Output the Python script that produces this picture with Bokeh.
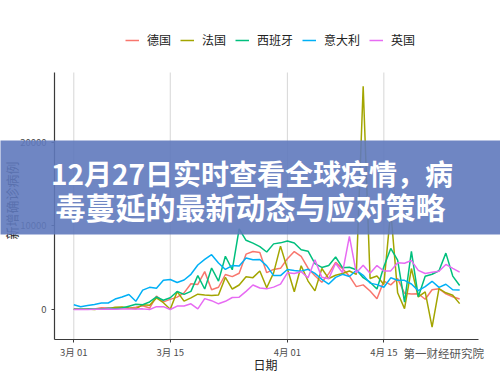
import math
import pandas as pd
from bokeh.plotting import figure
from bokeh.models import (Range1d, FixedTicker, Legend, LegendItem, BoxAnnotation,
                          Label, ColumnDataSource)
from bokeh.embed import file_html
from bokeh.resources import INLINE

# ---------------- data ----------------
dates = pd.date_range("2020-03-01", "2020-04-26", freq="D")

germany = [51, 29, 37, 66, 220, 188, 129, 241, 136, 281, 451, 170, 1597, 910,
           1210, 1477, 1985, 3070, 2993, 4528, 2365, 2660, 4183, 3930, 4337, 6615, 6933, 6824, 4400, 4790, 4923,
           6064, 6922, 6365, 4933, 4031, 3251, 4289, 5633, 4885, 3990, 2737, 2946, 2218, 1287, 3394, 2945,
           3699, 1945, 1842, 1881, 1226, 2357, 2481, 1870, 1514, 1257]
france = [43, 30, 61, 13, 84, 92, 276, 301, 177, 83, 575, 497, 1383, 808,
          33, 2137, 1002, 1391, 1828, 1741, 1670, 1736, 3838, 2448, 2929, 3922, 3809, 4611, 2599, 4376, 7578,
          4861, 2116, 5233, 3400, 2225, 4900, 3700, 4100, 4300, 4600, 4200, 26700, 3700, 4000, 3000, 11800,
          2000, 100, 4900, 1500, 2100, -2100, 2500, 2000, 1700, 700]
spain = [39, 36, 45, 57, 37, 141, 100, 173, 400, 622, 582, 900, 1500, 1100,
         1407, 2144, 1806, 2162, 4053, 2447, 4964, 3394, 6368, 4749, 9630, 8271, 7933, 7516, 6875, 7846, 7967,
         8195, 7947, 7134, 6969, 5478, 5029, 5267, 6278, 5002, 5051, 4754, 3804, 3268, 2442, 5103, 7304,
         5891, 887, 6948, 1536, 3968, 4211, 4635, 6740, 3995, 2870]
italy = [573, 335, 466, 587, 769, 778, 1247, 1492, 1797, 977, 2313, 2651, 2547, 3497,
         3590, 3233, 3526, 4207, 5322, 5986, 6557, 5560, 4789, 5249, 5210, 6153, 5959, 5974, 5217, 4050, 4053,
         4782, 4668, 4585, 4805, 4316, 3599, 3039, 3836, 4204, 3951, 4694, 4092, 3153, 2972, 2667, 3786,
         3493, 3491, 3047, 2256, 2729, 3370, 2646, 3021, 2357, 2324]
uk = [13, 4, 11, 35, 30, 48, 43, 67, 48, 62, 75, 0, 343, 342,
      1, 406, 409, 682, 74, 1298, 1053, 678, 981, 1438, 1476, 2172, 2933, 2567, 2468, 2673, 3028,
      4384, 4308, 4516, 3788, 5959, 3843, 3670, 5525, 4398, 8733, 4386, 5288, 4342, 5252, 4603, 4617,
      5599, 5525, 5850, 4676, 4301, 4451, 4583, 5386, 4913, 4463]

countries = ["德国", "法国", "西班牙", "意大利", "英国"]
colors = ["#F8766D", "#A3A500", "#00BF7D", "#00B0F6", "#E76BF3"]

tick_dates = ["2020-03-01", "2020-03-15", "2020-04-01", "2020-04-15"]
tick_labels = ["3月 01", "3月 15", "4月 01", "4月 15"]
y_ticks = [0, 10000, 20000]

title_lines = ["12月27日实时查看全球疫情，病", "毒蔓延的最新动态与应对策略"]
x_title = "日期"
y_title = "新增确诊病例"
watermark = "第一财经研究院"

# ---------------- layout helpers (pixel -> data) ----------------
W, H = 500, 375
PX0, PX_PER_DAY = 73.3, 6.89        # pixel of the first day, pixels per day
PY0, PY_PER_UNIT = 309.0, 0.008365  # pixel of zero, pixels per case


def dx(px):
    return (px - PX0) / PX_PER_DAY


def dy(py):
    return (PY0 - py) / PY_PER_UNIT


FRAME_L, FRAME_R, FRAME_T, FRAME_B = 54, 478, 72, 339

# ---------------- build ----------------
start = dates[0]
day = [(d - start).days for d in dates]
tick_pos = [(pd.Timestamp(t) - start).days for t in tick_dates]

src = ColumnDataSource(dict(day=day, de=germany, fr=france, es=spain, it=italy, uk=uk))
cols = ["de", "fr", "es", "it", "uk"]

FONT = "Noto Sans CJK SC"

p = figure(width=W, height=H, output_backend="svg", toolbar_location=None, title=None,
           x_range=Range1d(dx(0), dx(W)), y_range=Range1d(dy(H), dy(0)),
           min_border=0, min_border_left=0, min_border_right=0,
           min_border_top=0, min_border_bottom=0)
p.outline_line_color = None
p.background_fill_color = "white"
p.border_fill_color = "white"

# grid (vertical lines at the date ticks, limited to the panel)
p.xgrid.visible = False
p.ygrid.visible = False
p.segment(x0=tick_pos, y0=[dy(FRAME_B)] * len(tick_pos), x1=tick_pos, y1=[dy(FRAME_T)] * len(tick_pos),
          line_color="#d6d6d6", line_width=1)

# axes
xa, ya = p.xaxis[0], p.yaxis[0]
xa.ticker = FixedTicker(ticks=tick_pos)
xa.major_label_overrides = {t: l for t, l in zip(tick_pos, tick_labels)}
ya.ticker = FixedTicker(ticks=y_ticks)
xa.fixed_location = dy(FRAME_B)
ya.fixed_location = dx(FRAME_L)
xa.bounds = (dx(FRAME_L), dx(FRAME_R))
ya.bounds = (dy(FRAME_B), dy(FRAME_T))
for ax in (xa, ya):
    ax.axis_line_color = "#3a3a3a"
    ax.axis_line_width = 1.2
    ax.major_tick_line_color = "#3a3a3a"
    ax.major_tick_in = 0
    ax.major_tick_out = 3
    ax.minor_tick_line_color = None
    ax.major_label_text_font = FONT
    ax.major_label_text_font_size = "9.5px"
    ax.major_label_text_color = "#4d4d4d"
xa.major_label_standoff = 2
ya.major_label_standoff = 5

# axis titles
p.add_layout(Label(x=dx(11), y=dy(200), text=y_title, angle=math.pi / 2,
                   text_align="center", text_baseline="middle",
                   text_font=FONT, text_font_size="13px", text_color="#222222"))
p.add_layout(Label(x=dx(265), y=dy(364), text=x_title, text_align="center", text_baseline="middle",
                   text_font=FONT, text_font_size="12px", text_color="#222222"))

# lines
renderers = []
for c, col in zip(cols, colors):
    r = p.line(x="day", y=c, source=src, line_color=col, line_width=1.5)
    renderers.append(r)

legend = Legend(items=[LegendItem(label=n, renderers=[r]) for n, r in zip(countries, renderers)],
                orientation="horizontal", location=(125, H - 48))
legend.glyph_width = 14
legend.glyph_height = 14
legend.label_height = 14
legend.label_standoff = 8
legend.spacing = 9
legend.padding = 0
legend.margin = 0
legend.border_line_alpha = 0
legend.background_fill_alpha = 0
legend.label_text_font = FONT
legend.label_text_font_size = "12px"
legend.label_text_color = "#222222"
legend.label_text_baseline = "middle"
p.add_layout(legend, "center")

# watermark
p.add_layout(Label(x=dx(403), y=dy(352), text=watermark, text_align="left", text_baseline="middle",
                   text_font=FONT, text_font_size="11.5px", text_color="#555555"))

# banner with title
p.add_layout(BoxAnnotation(left=dx(-20), right=dx(W + 20), top=dy(140), bottom=dy(234),
                           fill_color="#5f79bd", fill_alpha=0.9, line_color=None))
for txt, px, py, fs in zip(title_lines, [251.5, 250], [172, 205], ["28px", "30px"]):
    p.add_layout(Label(x=dx(px), y=dy(py), text=txt, text_align="center", text_baseline="middle",
                       text_font=FONT, text_font_style="bold", text_font_size=fs,
                       text_color="white"))

open("out.html", "w").write(file_html(p, INLINE))
